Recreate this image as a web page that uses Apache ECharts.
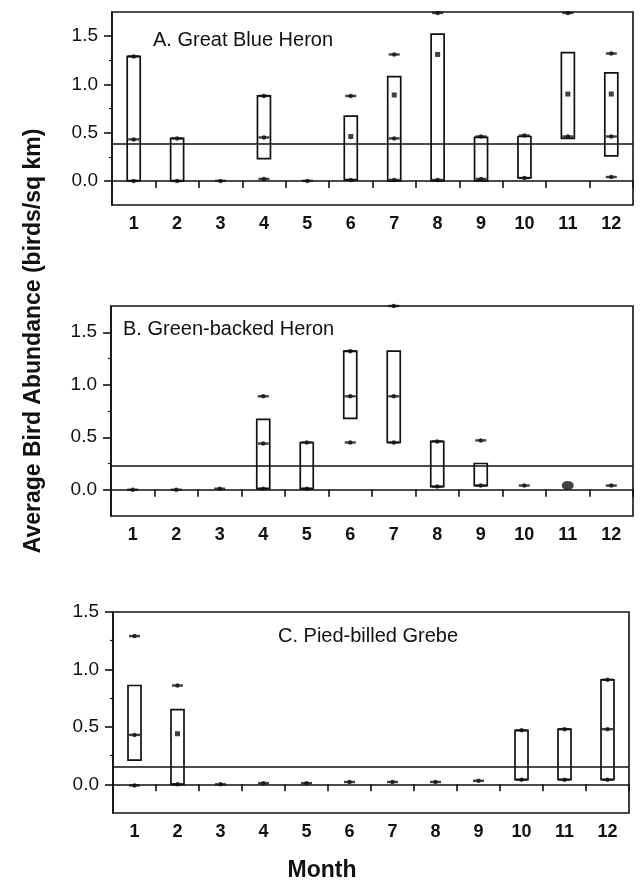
<!DOCTYPE html>
<html>
<head>
<meta charset="utf-8">
<script src="https://cdn.jsdelivr.net/npm/echarts@6/dist/echarts.min.js"></script>
<style>html,body{margin:0;padding:0;background:#fff;}#c{width:640px;height:882px;}</style>
</head>
<body>
<div id="c"></div>
<script>
// ---- data ----
const months = ['1','2','3','4','5','6','7','8','9','10','11','12'];
const majorTicks = [0, 0.5, 1.0, 1.5];
const minorTicks = [0.25, 0.75, 1.25];

// Panel A: Great Blue Heron
const A_title = 'A. Great Blue Heron';
const A_boxLow  = [0, 0, null, 0.23, null, 0.01, 0, 0, 0, 0.03, 0.44, 0.26];
const A_boxHigh = [1.29, 0.44, null, 0.88, null, 0.67, 1.08, 1.52, 0.45, 0.46, 1.33, 1.12];
const A_marks = [[0,0],[0,0.43],[0,1.29],[1,0],[1,0.44],[2,0],[3,0.02],[3,0.45],[3,0.88],[4,0],
  [5,0.01],[5,0.88],[6,0.01],[6,0.44],[6,1.31],[7,0.01],[7,1.74],[8,0.02],[8,0.46],[9,0.03],[9,0.47],
  [10,0.46],[10,1.74],[11,0.04],[11,0.46],[11,1.32]];
const A_squares = [[5,0.46],[6,0.89],[7,1.31],[10,0.9],[11,0.9]];
const A_mean = 0.38;

// Panel B: Green-backed Heron
const B_title = 'B. Green-backed Heron';
const B_boxLow  = [null, null, null, 0.01, 0.01, 0.68, 0.45, 0.03, 0.04, null, null, null];
const B_boxHigh = [null, null, null, 0.67, 0.45, 1.32, 1.32, 0.46, 0.25, null, null, null];
const B_marks = [[0,0],[1,0],[2,0.01],[3,0.01],[3,0.44],[3,0.89],[4,0.01],[4,0.45],
  [5,0.45],[5,0.89],[5,1.32],[6,0.45],[6,0.89],[6,1.75],[7,0.03],[7,0.46],[8,0.04],[8,0.47],[9,0.04],[11,0.04]];
const B_bigDots = [[10,0.04]];
const B_mean = 0.23;

// Panel C: Pied-billed Grebe
const C_title = 'C. Pied-billed Grebe';
const C_boxLow  = [0.21, 0, null, null, null, null, null, null, null, 0.04, 0.04, 0.04];
const C_boxHigh = [0.86, 0.65, null, null, null, null, null, null, null, 0.47, 0.48, 0.91];
const C_marks = [[0,-0.01],[0,0.43],[0,1.29],[1,0],[1,0.86],[2,0],[3,0.01],[4,0.01],[5,0.02],
  [6,0.02],[7,0.02],[8,0.03],[9,0.04],[9,0.47],[10,0.04],[10,0.48],[11,0.04],[11,0.48],[11,0.91]];
const C_squares = [[1,0.44]];
const C_mean = 0.15;

const Y_TITLE = 'Average Bird Abundance (birds/sq km)';
const X_TITLE = 'Month';

// ---- chart ----
const INK = '#111';
const FONT = 'Liberation Sans, Arial, sans-serif';
const chart = echarts.init(document.getElementById('c'), null, {renderer: 'canvas'});

const panels = [
  {title: A_title, lo: A_boxLow, hi: A_boxHigh, marks: A_marks, squares: A_squares, big: [], mean: A_mean, max: 1.75,
   grid: {left: 112, top: 12, width: 521, height: 193}, tpos: {left: 148, top: 25}},
  {title: B_title, lo: B_boxLow, hi: B_boxHigh, marks: B_marks, squares: [], big: B_bigDots, mean: B_mean, max: 1.75,
   grid: {left: 111, top: 306, width: 522, height: 210}, tpos: {left: 118, top: 314}},
  {title: C_title, lo: C_boxLow, hi: C_boxHigh, marks: C_marks, squares: C_squares, big: [], mean: C_mean, max: 1.5,
   grid: {left: 113, top: 612, width: 516, height: 201}, tpos: {left: 273, top: 621}}
];

const grids = [], xAxes = [], yAxes = [], series = [], titles = [];
panels.forEach((p, k) => {
  grids.push(Object.assign({show: true, borderColor: INK, borderWidth: 1.6, backgroundColor: 'transparent'}, p.grid));
  titles.push({text: p.title, left: p.tpos.left, top: p.tpos.top,
    textStyle: {fontFamily: FONT, fontSize: 20, fontWeight: 'normal', color: INK}});
  xAxes.push({type: 'category', gridIndex: k, data: months, boundaryGap: true,
    axisLine: {lineStyle: {color: INK, width: 1.6}},
    axisTick: {show: true, interval: 0, length: 7, lineStyle: {color: INK, width: 1.6}},
    axisLabel: {interval: 0, margin: 10, fontFamily: FONT, fontSize: 18, fontWeight: 'bold', color: INK},
    splitLine: {show: false}});
  const major = {type: 'value', gridIndex: k, position: 'left', min: -0.25, max: p.max,
    axisLine: {show: true, lineStyle: {color: INK, width: 1.6}},
    axisTick: {show: true, length: 8, customValues: majorTicks, lineStyle: {color: INK, width: 1.6}},
    axisLabel: {customValues: majorTicks, margin: 14, fontFamily: FONT, fontSize: 19, color: INK,
      formatter: v => v.toFixed(1)},
    splitLine: {show: false}};
  const minor = {type: 'value', gridIndex: k, position: 'left', min: -0.25, max: p.max,
    axisLine: {show: false},
    axisTick: {show: true, length: 3, customValues: minorTicks, lineStyle: {color: INK, width: 1.2}},
    axisLabel: {show: false}, splitLine: {show: false}};
  const yi = yAxes.length;
  yAxes.push(major, minor);

  const boxData = [];
  p.lo.forEach((v, i) => { if (v != null) boxData.push([i, v, p.hi[i]]); });

  series.push({
    type: 'custom', xAxisIndex: k, yAxisIndex: yi, data: boxData, z: 2,
    encode: {x: 0, y: [1, 2]},
    renderItem: (params, api) => {
      const top = api.coord([api.value(0), api.value(2)]);
      const bot = api.coord([api.value(0), api.value(1)]);
      const w = 13;
      return {type: 'rect', shape: {x: top[0] - w / 2, y: top[1], width: w, height: bot[1] - top[1]},
        style: {fill: '#fff', stroke: INK, lineWidth: 1.7}};
    },
    markLine: {silent: true, symbol: 'none', label: {show: false},
      lineStyle: {color: INK, width: 1.5, type: 'solid'}, data: [{yAxis: p.mean}]}
  });
  series.push({type: 'scatter', xAxisIndex: k, yAxisIndex: yi, data: p.marks, z: 5,
    symbol: 'rect', symbolSize: [11, 2.4], itemStyle: {color: INK}});
  series.push({type: 'scatter', xAxisIndex: k, yAxisIndex: yi, data: p.marks, z: 6,
    symbol: 'circle', symbolSize: 4.5, itemStyle: {color: INK}});
  series.push({type: 'scatter', xAxisIndex: k, yAxisIndex: yi, data: p.squares, z: 6,
    symbol: 'rect', symbolSize: [5, 5], itemStyle: {color: INK}});
  series.push({type: 'scatter', xAxisIndex: k, yAxisIndex: yi, data: p.big, z: 6,
    symbol: 'circle', symbolSize: [12, 9], itemStyle: {color: INK}});
});

chart.setOption({
  animation: false,
  backgroundColor: '#fff',
  title: titles,
  grid: grids,
  xAxis: xAxes,
  yAxis: yAxes,
  series: series,
  graphic: [
    {type: 'text', x: 34, y: 341, rotation: Math.PI / 2,
      style: {text: Y_TITLE, fontFamily: FONT, fontSize: 23, fontWeight: 'bold',
        fill: INK, align: 'center', verticalAlign: 'middle'}},
    {type: 'text', x: 322, y: 871,
      style: {text: X_TITLE, fontFamily: FONT, fontSize: 23, fontWeight: 'bold', fill: INK,
        align: 'center', verticalAlign: 'middle'}}
  ]
});
</script>
</body>
</html>
